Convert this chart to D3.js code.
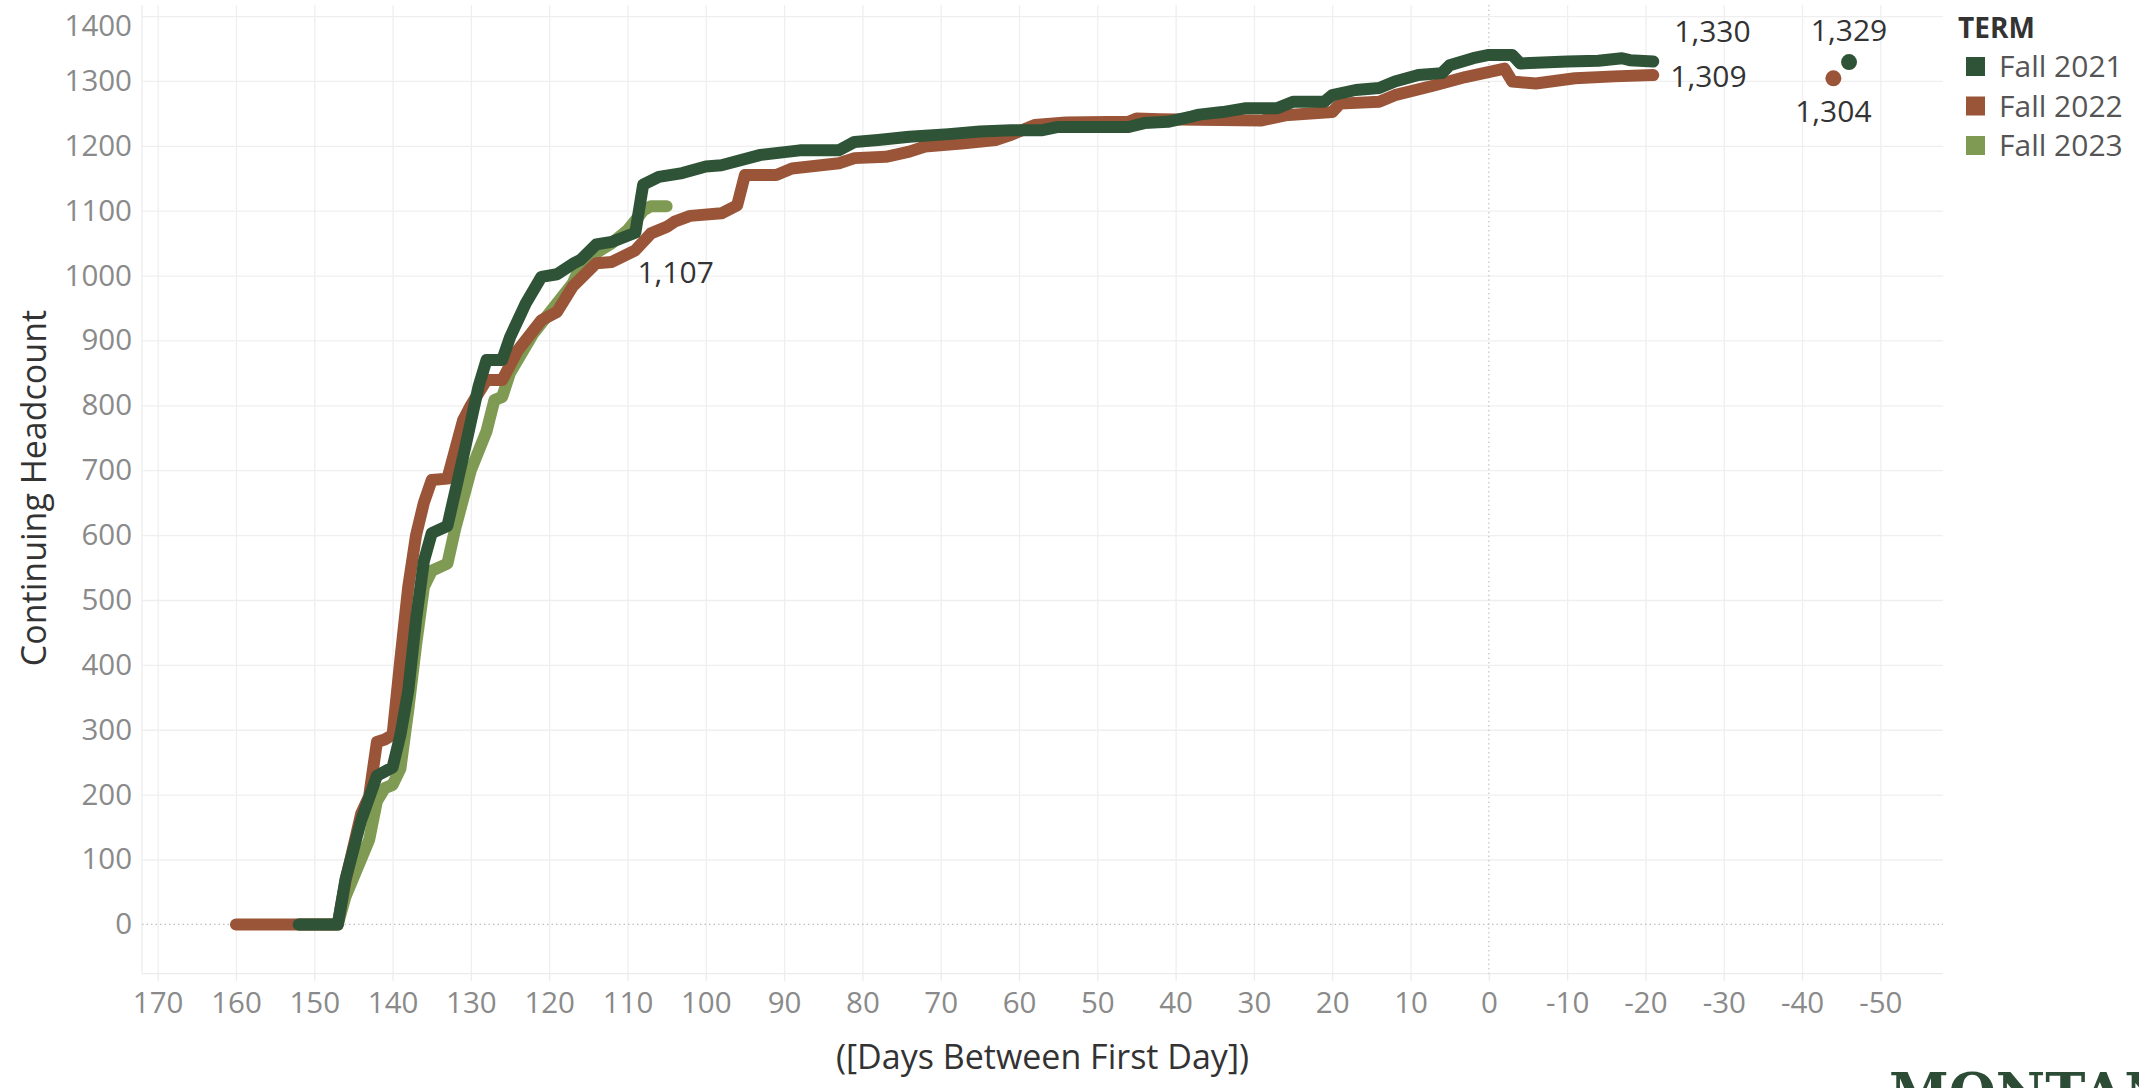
<!DOCTYPE html>
<html>
<head>
<meta charset="utf-8">
<script src="https://cdn.jsdelivr.net/npm/d3@7"></script>
<style>
  body { margin: 0; background: #fff; overflow: hidden; }
  svg { display: block; font-family: "Open Sans", sans-serif; }
  .grid line { stroke: #efefef; stroke-width: 1.3; }
  .grid path { display: none; }
  .tick-label text { fill: #8a8a8a; font-size: 29.5px; }
  .mark-label { fill: #333; font-size: 30px; }
</style>
</head>
<body>
<svg id="chart"></svg>
<script>
var width = 2139,
    height = 1088;

// Terms and their colors
var terms = ['Fall 2021', 'Fall 2022', 'Fall 2023'];
var termColors = ['#2f5336', '#9a5539', '#7f9a53'];

// Fall 2021 headcount by days before first day
var days2021 = [152, 147, 146, 144, 142, 140, 139, 138, 137, 136, 135, 133, 131, 130, 129, 128, 126, 125, 123, 121, 119, 117, 116, 114, 112, 109, 108, 106, 103, 100, 98, 93, 88, 83, 81, 78, 74, 69, 65, 61, 57, 55, 46, 44, 41, 38, 37, 34, 31, 27, 25, 21, 20, 17, 14, 12, 9, 6, 5, 2, 0, -3, -4, -10, -14, -17, -18, -21];
var count2021 = [0, 0, 70, 161, 229, 242, 292, 360, 470, 560, 603, 614, 720, 775, 830, 870, 870, 905, 957, 998, 1002, 1018, 1024, 1048, 1052, 1066, 1140, 1152, 1158, 1168, 1170, 1186, 1193, 1193, 1206, 1209, 1214, 1218, 1222, 1224, 1224, 1229, 1229, 1235, 1237, 1245, 1248, 1252, 1258, 1258, 1268, 1268, 1278, 1286, 1289, 1299, 1309, 1312, 1324, 1335, 1340, 1340, 1327, 1330, 1331, 1335, 1332, 1330];

// Fall 2022
var days2022 = [160, 147, 146, 144, 143, 142, 141, 140, 139, 138, 137, 136, 135, 133, 131, 130, 128, 126, 124, 121, 119, 117, 114, 112, 109, 107, 105, 104, 102, 98, 96, 95, 91, 89, 83, 81, 77, 74, 72, 67, 63, 61, 58, 54, 46, 45, 42, 37, 29, 26, 20, 19, 14, 12, 7, 3, -2, -3, -6, -11, -16, -21];
var count2022 = [0, 0, 68, 171, 197, 281, 285, 292, 409, 520, 600, 650, 685, 687, 777, 800, 839, 839, 885, 931, 944, 983, 1019, 1021, 1039, 1065, 1075, 1083, 1092, 1096, 1108, 1155, 1155, 1165, 1173, 1181, 1183, 1191, 1199, 1204, 1209, 1217, 1232, 1236, 1237, 1242, 1241, 1240, 1239, 1247, 1252, 1265, 1268, 1278, 1293, 1306, 1319, 1299, 1296, 1304, 1307, 1309];

// Fall 2023 (current, partial)
var days2023 = [152, 147, 146, 143, 142, 141, 140, 139, 138, 137, 136, 135, 133, 132, 130, 128, 127, 126, 125, 122, 120, 117, 116, 114, 112, 110, 108, 107, 105];
var count2023 = [0, 0, 43, 130, 190, 210, 215, 240, 330, 430, 520, 545, 556, 610, 700, 760, 808, 813, 850, 911, 942, 988, 1015, 1035, 1050, 1070, 1100, 1107, 1107];

// Single points shown off to the right
var pointTerms = ['Fall 2021', 'Fall 2022'];
var pointDays = [-46, -44];
var pointCounts = [1329, 1304];

// Axis ticks
var xTicks = [170, 160, 150, 140, 130, 120, 110, 100, 90, 80, 70, 60, 50, 40, 30, 20, 10, 0, -10, -20, -30, -40, -50];
var yTicks = [0, 100, 200, 300, 400, 500, 600, 700, 800, 900, 1000, 1100, 1200, 1300, 1400];

// plot box (note: "top" is reserved on window, so use other names)
var plotLeft = 142, plotRight = 1943, plotTop = 5, plotBottom = 973.7;

var x = d3.scaleLinear().domain([172, -58]).range([plotLeft, plotRight]);
var y = d3.scaleLinear().domain([-76, 1417]).range([plotBottom, plotTop]);
var color = d3.scaleOrdinal().domain(terms).range(termColors);
var fmt = d3.format(',');

var svg = d3.select('#chart')
    .attr('width', width)
    .attr('height', height);

// Grid
svg.append('g')
    .attr('class', 'grid')
    .attr('transform', 'translate(0,' + plotBottom + ')')
    .call(d3.axisBottom(x).tickValues(xTicks.filter(function(d) { return d !== 0; }))
        .tickSize(-(plotBottom - plotTop)).tickFormat(''));

svg.append('g')
    .attr('class', 'grid')
    .attr('transform', 'translate(' + plotLeft + ',0)')
    .call(d3.axisLeft(y).tickValues(yTicks.filter(function(d) { return d !== 0; }))
        .tickSize(-(plotRight - plotLeft)).tickFormat(''));

// Frame lines
svg.append('line')
    .attr('x1', plotLeft).attr('x2', plotLeft).attr('y1', plotTop).attr('y2', plotBottom)
    .attr('stroke', '#ececec').attr('stroke-width', 1.3);
svg.append('line')
    .attr('x1', plotLeft).attr('x2', plotRight).attr('y1', plotBottom).attr('y2', plotBottom)
    .attr('stroke', '#ececec').attr('stroke-width', 1.3);

// Zero reference lines (dotted)
svg.append('line')
    .attr('x1', plotLeft).attr('x2', plotRight).attr('y1', y(0)).attr('y2', y(0))
    .attr('stroke', '#bdbdbd').attr('stroke-width', 1.3).attr('stroke-dasharray', '1.5,3');
svg.append('line')
    .attr('x1', x(0)).attr('x2', x(0)).attr('y1', plotTop).attr('y2', plotBottom)
    .attr('stroke', '#c8c8c8').attr('stroke-width', 1.3).attr('stroke-dasharray', '1.5,3');

// X axis
var xAxis = svg.append('g')
    .attr('class', 'tick-label')
    .attr('transform', 'translate(0,' + plotBottom + ')')
    .call(d3.axisBottom(x).tickValues(xTicks).tickSize(7).tickPadding(11)
        .tickFormat(function(d) { return String(d); }));
xAxis.select('.domain').remove();
xAxis.selectAll('line').attr('stroke', '#ececec').attr('stroke-width', 1.3);
xAxis.selectAll('text').attr('font-family', '"Open Sans", sans-serif');

// Y axis
var yAxis = svg.append('g')
    .attr('class', 'tick-label')
    .attr('transform', 'translate(' + plotLeft + ',0)')
    .call(d3.axisLeft(y).tickValues(yTicks).tickSize(0).tickPadding(10)
        .tickFormat(function(d) { return String(d); }));
yAxis.select('.domain').remove();
yAxis.selectAll('text').attr('font-family', '"Open Sans", sans-serif');
// top label gets nudged down so it isn't clipped (like Tableau does)
yAxis.selectAll('.tick')
    .filter(function(d) { return y(d) < 20; })
    .select('text')
    .attr('dy', '0.66em');

// Axis titles
svg.append('text')
    .attr('x', (plotLeft + plotRight) / 2)
    .attr('y', 1069)
    .attr('text-anchor', 'middle')
    .attr('fill', '#333')
    .style('font-size', '34px')
    .text('([Days Between First Day])');

svg.append('text')
    .attr('transform', 'translate(46,488) rotate(-90)')
    .attr('text-anchor', 'middle')
    .attr('fill', '#333')
    .style('font-size', '34px')
    .text('Continuing Headcount');

// Lines
var series = [
    { term: 'Fall 2023', days: days2023, counts: count2023 },
    { term: 'Fall 2022', days: days2022, counts: count2022 },
    { term: 'Fall 2021', days: days2021, counts: count2021 }
];

var line = d3.line()
    .x(function(d) { return x(d[0]); })
    .y(function(d) { return y(d[1]); });

svg.append('g').selectAll('path')
    .data(series)
    .enter().append('path')
    .attr('d', function(s) { return line(d3.zip(s.days, s.counts)); })
    .attr('fill', 'none')
    .attr('stroke', function(s) { return color(s.term); })
    .attr('stroke-width', 12)
    .attr('stroke-linejoin', 'round')
    .attr('stroke-linecap', 'round');

// Single points
svg.append('g').selectAll('circle')
    .data(d3.range(pointTerms.length))
    .enter().append('circle')
    .attr('cx', function(i) { return x(pointDays[i]); })
    .attr('cy', function(i) { return y(pointCounts[i]); })
    .attr('r', 8)
    .attr('fill', function(i) { return color(pointTerms[i]); });

// Mark labels
function lastOf(arr) { return arr[arr.length - 1]; }

svg.append('text').attr('class', 'mark-label')
    .attr('x', x(lastOf(days2021)) + 21).attr('y', y(lastOf(count2021)) - 19)
    .text(fmt(lastOf(count2021)));
svg.append('text').attr('class', 'mark-label')
    .attr('x', x(lastOf(days2022)) + 17).attr('y', y(lastOf(count2022)) + 12)
    .text(fmt(lastOf(count2022)));
svg.append('text').attr('class', 'mark-label')
    .attr('x', x(lastOf(days2023)) + 9).attr('y', y(lastOf(count2023)) + 77)
    .attr('text-anchor', 'middle')
    .text(fmt(lastOf(count2023)));
svg.append('text').attr('class', 'mark-label')
    .attr('x', x(pointDays[0])).attr('y', y(pointCounts[0]) - 21)
    .attr('text-anchor', 'middle')
    .text(fmt(pointCounts[0]));
svg.append('text').attr('class', 'mark-label')
    .attr('x', x(pointDays[1])).attr('y', y(pointCounts[1]) + 44)
    .attr('text-anchor', 'middle')
    .text(fmt(pointCounts[1]));

// Legend
var legend = svg.append('g').attr('transform', 'translate(1958,0)');
legend.append('text')
    .attr('x', 0).attr('y', 38)
    .attr('fill', '#333')
    .style('font-size', '28px')
    .style('font-weight', 'bold')
    .text('TERM');

var item = legend.selectAll('.item')
    .data(terms)
    .enter().append('g')
    .attr('class', 'item')
    .attr('transform', function(d, i) { return 'translate(0,' + (57 + i * 39.5) + ')'; });
item.append('rect')
    .attr('x', 8).attr('width', 19).attr('height', 19)
    .attr('fill', function(d) { return color(d); });
item.append('text')
    .attr('x', 41).attr('y', 20)
    .attr('fill', '#555')
    .style('font-size', '30px')
    .text(function(d) { return d; });

// Logo text, clipped by the bottom edge
svg.append('text')
    .attr('x', 1889).attr('y', 1112)
    .attr('fill', '#2d4c35')
    .style('font-family', '"DejaVu Serif", serif')
    .style('font-weight', 'bold')
    .style('font-size', '54px')
    .text('MONTANA');
</script>
</body>
</html>
